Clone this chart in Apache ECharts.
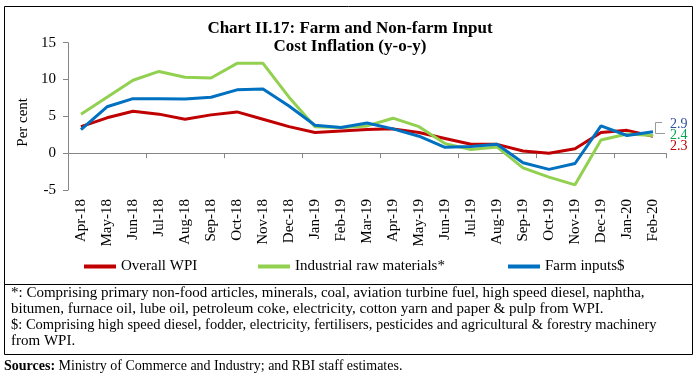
<!DOCTYPE html>
<html>
<head>
<meta charset="utf-8">
<script src="https://cdn.jsdelivr.net/npm/echarts@6/dist/echarts.min.js"></script>
<style>
html,body{margin:0;padding:0;background:#fff;}
#chart{width:700px;height:376px;}
</style>
</head>
<body>
<div id="chart"></div>
<script>
var months = ["Apr-18","May-18","Jun-18","Jul-18","Aug-18","Sep-18","Oct-18","Nov-18","Dec-18","Jan-19","Feb-19","Mar-19",
              "Apr-19","May-19","Jun-19","Jul-19","Aug-19","Sep-19","Oct-19","Nov-19","Dec-19","Jan-20","Feb-20"];
var overallWPI = [3.6,4.8,5.7,5.3,4.6,5.2,5.6,4.6,3.6,2.8,3.0,3.2,3.3,2.8,2.0,1.2,1.2,0.3,0.0,0.6,2.8,3.1,2.3];
var industrialRaw = [5.3,7.6,9.9,11.1,10.3,10.2,12.2,12.2,7.6,3.6,3.5,3.7,4.75,3.6,1.3,0.5,0.85,-2.0,-3.25,-4.3,1.8,2.6,2.4];
var farmInputs = [3.2,6.3,7.4,7.4,7.35,7.6,8.6,8.7,6.4,3.8,3.5,4.1,3.3,2.3,0.8,0.9,1.2,-1.3,-2.2,-1.4,3.7,2.4,2.9];
var yTicks = {min:-5, max:15, interval:5};
var seriesNames = ["Overall WPI","Industrial raw materials*","Farm inputs$"];
var footnotes = [
  "*: Comprising primary non-food articles, minerals, coal, aviation turbine fuel, high speed diesel, naphtha,",
  "bitumen, furnace oil, lube oil, petroleum coke, electricity, cotton yarn and paper & pulp from WPI.",
  "$: Comprising high speed diesel, fodder, electricity, fertilisers, pesticides and agricultural & forestry machinery",
  "from WPI."
];
var sourceLabel = "Sources:";
var sourceText = " Ministry of Commerce and Industry; and RBI staff estimates.";

var FONT = "'Liberation Serif','Times New Roman',serif";
var colors = ["#C00000","#92D050","#0070C0"];
var labelColors = ["#C00000","#00A651","#2F4F9E"];
var endOffsets = [[9,10],[9,0],[9,-7]];
var series = [overallWPI, industrialRaw, farmInputs].map(function(d,i){
  return {
    name: seriesNames[i], type:'line', data:d, xAxisIndex:0,
    symbol:'none', smooth:false,
    lineStyle:{color:colors[i], width:3},
    itemStyle:{color:colors[i]},
    endLabel:{show:true, formatter:function(p){return p.value.toFixed(1);},
      color:labelColors[i], fontFamily:FONT, fontSize:14, offset:endOffsets[i]},
    z: 2+i
  };
});

var graphics = [
  {type:'rect', shape:{x:4.5,y:6.5,width:688,height:278}, style:{fill:null, stroke:'#000', lineWidth:1}, silent:true},
  {type:'rect', shape:{x:4.5,y:284.5,width:688,height:70}, style:{fill:null, stroke:'#000', lineWidth:1}, silent:true},
  {type:'polyline', shape:{points:[[662,122.5],[655.5,122.5],[655.5,133.5],[665,133.5]]}, style:{fill:null, stroke:'#999', lineWidth:1}, silent:true}
];
var fy = [294,310,326,342];
var fsize = [15,15,14.5,15];
footnotes.forEach(function(t,i){
  graphics.push({type:'text', left:11, top:fy[i]-8, style:{text:t, font:fsize[i]+"px "+FONT, fill:'#000'}});
});
graphics.push({type:'text', left:4, top:367-8, style:{
  text:"{b|"+sourceLabel+"}{r|"+sourceText+"}",
  rich:{b:{font:"bold 14px "+FONT, fill:'#000'}, r:{font:"14px "+FONT, fill:'#000'}}
}});

var legends = [79, 253, 503].map(function(x,i){
  return {data:[seriesNames[i]], left:x, top:254, icon:'rect', itemWidth:32, itemHeight:4, itemGap:0,
    textStyle:{fontFamily:FONT, fontSize:15, color:'#000'}, selectedMode:false};
});

var option = {
  backgroundColor:'#fff',
  animation:false,
  title:{text:"Chart II.17: Farm and Non-farm Input\nCost Inflation (y-o-y)", left:'center', top:15,
    textStyle:{fontFamily:FONT, fontSize:17, fontWeight:'bold', color:'#000', lineHeight:18}},
  legend: legends,
  grid:{left:68, right:34, top:42.7, bottom:186, containLabel:false},
  xAxis:[
    {type:'category', data:months, boundaryGap:true,
     axisLine:{onZero:true, lineStyle:{color:'#868686', width:1}},
     axisTick:{show:true, length:5, lineStyle:{color:'#868686'}},
     axisLabel:{show:false}, splitLine:{show:false}},
    {type:'category', data:months, boundaryGap:true, position:'bottom',
     axisLine:{show:false, onZero:false}, axisTick:{show:false},
     axisLabel:{show:true, rotate:90, interval:0, margin:9, fontFamily:FONT, fontSize:15, color:'#000'},
     splitLine:{show:false}}
  ],
  yAxis:{type:'value', min:yTicks.min, max:yTicks.max, interval:yTicks.interval,
    name:'Per cent', nameLocation:'middle', nameGap:33, nameRotate:90,
    nameTextStyle:{fontFamily:FONT, fontSize:15, color:'#000', padding:[0,0,0,-12]},
    axisLine:{show:true, lineStyle:{color:'#868686'}},
    axisTick:{show:true, length:5, lineStyle:{color:'#868686'}},
    axisLabel:{fontFamily:FONT, fontSize:15, color:'#000', margin:12},
    splitLine:{show:false}},
  series: series.concat([{type:'line', xAxisIndex:1, data:[], silent:true}]),
  graphic: graphics
};
var chart = echarts.init(document.getElementById('chart'), null, {renderer:'canvas'});
chart.setOption(option);
</script>
</body>
</html>
